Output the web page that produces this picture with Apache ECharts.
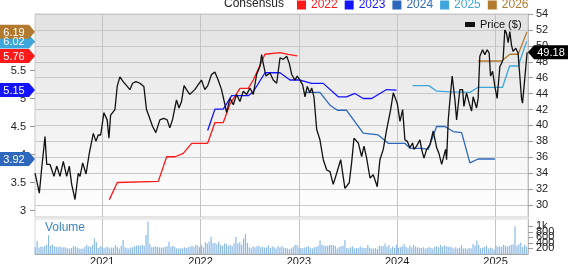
<!DOCTYPE html>
<html><head><meta charset="utf-8">
<script src="https://cdn.jsdelivr.net/npm/echarts@6/dist/echarts.min.js"></script>
<style>html,body{margin:0;padding:0;background:#fff}#c{width:568px;height:264px}</style>
</head><body><div id="c"></div>
<script>
const xMin = 2020.316, xMax = 2025.33;
const yearTicks = [2021, 2022, 2023, 2024, 2025];
const epsTicks = [3, 3.5, 4, 4.5, 5, 5.5, 6];
const priceTicks = [30, 32, 34, 36, 38, 40, 42, 44, 46, 48, 50, 52, 54];
const volumeTicks = [0, 200, 400, 600, 800, 1000, 1200];

const pricePoints = [[2020.316,34.0],[2020.331,33.2],[2020.360,31.5],[2020.387,35.0],[2020.418,38.6],[2020.435,35.1],[2020.469,35.1],[2020.509,33.6],[2020.537,34.9],[2020.570,33.6],[2020.604,35.5],[2020.638,33.6],[2020.665,34.9],[2020.689,32.6],[2020.723,30.7],[2020.756,34.0],[2020.774,33.6],[2020.801,35.3],[2020.835,33.9],[2020.868,36.5],[2020.909,39.0],[2020.936,38.0],[2020.959,38.8],[2020.984,38.8],[2021.017,41.6],[2021.050,40.7],[2021.068,38.4],[2021.085,41.3],[2021.129,42.0],[2021.152,44.9],[2021.179,46.1],[2021.213,45.5],[2021.254,44.9],[2021.281,44.5],[2021.308,45.3],[2021.342,45.5],[2021.383,45.3],[2021.423,44.9],[2021.450,42.0],[2021.477,41.1],[2021.511,39.9],[2021.545,39.1],[2021.586,40.7],[2021.626,40.9],[2021.660,40.7],[2021.687,39.7],[2021.714,40.7],[2021.755,43.2],[2021.781,42.2],[2021.806,43.0],[2021.832,45.0],[2021.857,44.5],[2021.890,43.9],[2021.941,44.5],[2022.009,45.7],[2022.043,44.5],[2022.073,45.0],[2022.111,46.4],[2022.145,46.7],[2022.179,45.7],[2022.213,44.5],[2022.248,42.6],[2022.265,41.6],[2022.299,43.4],[2022.333,42.6],[2022.367,43.9],[2022.400,43.0],[2022.434,44.3],[2022.469,43.9],[2022.502,44.7],[2022.536,43.9],[2022.570,46.4],[2022.604,47.4],[2022.621,48.9],[2022.637,47.8],[2022.665,46.2],[2022.706,46.6],[2022.739,45.7],[2022.774,45.3],[2022.808,48.5],[2022.841,48.3],[2022.876,48.7],[2022.902,47.8],[2022.927,46.4],[2022.960,45.7],[2022.983,46.2],[2023.011,45.7],[2023.038,45.1],[2023.062,43.6],[2023.085,44.9],[2023.112,44.1],[2023.130,44.7],[2023.153,43.6],[2023.181,39.5],[2023.214,38.2],[2023.248,35.7],[2023.283,34.4],[2023.316,34.2],[2023.349,32.6],[2023.384,34.0],[2023.425,35.7],[2023.468,32.1],[2023.512,32.8],[2023.536,35.3],[2023.560,38.4],[2023.604,37.8],[2023.638,36.1],[2023.662,37.4],[2023.689,35.9],[2023.723,33.4],[2023.756,33.8],[2023.797,32.3],[2023.824,35.7],[2023.858,37.0],[2023.893,39.5],[2023.933,42.0],[2023.960,44.1],[2024.000,42.8],[2024.028,40.5],[2024.055,42.0],[2024.078,38.2],[2024.102,38.0],[2024.129,37.2],[2024.156,37.8],[2024.170,37.0],[2024.197,37.4],[2024.231,38.2],[2024.248,37.0],[2024.272,35.9],[2024.299,37.0],[2024.333,37.6],[2024.366,39.3],[2024.401,37.2],[2024.424,36.5],[2024.452,35.1],[2024.468,34.9],[2024.492,37.0],[2024.502,35.7],[2024.519,40.7],[2024.536,43.2],[2024.559,46.2],[2024.587,43.2],[2024.604,40.7],[2024.637,44.5],[2024.665,44.5],[2024.678,42.4],[2024.705,44.1],[2024.732,42.8],[2024.756,41.8],[2024.772,43.6],[2024.807,42.2],[2024.823,43.4],[2024.840,48.7],[2024.868,49.5],[2024.891,48.9],[2024.915,49.5],[2024.935,49.1],[2024.949,46.2],[2024.970,46.8],[2024.993,44.9],[2025.016,43.4],[2025.044,47.4],[2025.061,47.8],[2025.077,48.3],[2025.094,52.0],[2025.111,51.6],[2025.128,50.4],[2025.145,51.8],[2025.162,50.1],[2025.178,49.3],[2025.206,49.7],[2025.229,49.1],[2025.247,46.2],[2025.264,43.4],[2025.274,42.8],[2025.287,44.5],[2025.308,47.4],[2025.321,49.18]];

const eps2022 = [[2021.071,3.19],[2021.153,3.50],[2021.570,3.52],[2021.655,3.96],[2021.740,3.96],[2021.824,4.02],[2021.909,4.20],[2022.072,4.20],[2022.146,4.57],[2022.231,4.57],[2022.299,4.90],[2022.400,5.18],[2022.485,5.18],[2022.536,5.33],[2022.655,5.79],[2022.808,5.82],[2022.892,5.79],[2022.983,5.76]];
const eps2023 = [[2022.072,4.43],[2022.146,4.81],[2022.231,4.81],[2022.316,5.05],[2022.485,5.05],[2022.536,5.12],[2022.655,5.46],[2022.808,5.46],[2022.909,5.33],[2023.011,5.33],[2023.129,5.27],[2023.247,5.27],[2023.400,5.03],[2023.485,5.03],[2023.570,5.09],[2023.654,5.00],[2023.740,5.00],[2023.892,5.16],[2023.994,5.15]];
const eps2024 = [[2023.061,5.11],[2023.214,5.11],[2023.316,4.88],[2023.392,4.79],[2023.485,4.79],[2023.654,4.38],[2023.807,4.35],[2023.908,4.20],[2024.078,4.20],[2024.129,4.11],[2024.248,4.11],[2024.315,4.09],[2024.400,4.50],[2024.485,4.50],[2024.569,4.41],[2024.655,4.39],[2024.739,3.85],[2024.823,3.92],[2024.993,3.92]];
const eps2025 = [[2024.156,5.23],[2024.322,5.23],[2024.403,5.13],[2024.536,5.12],[2024.739,5.11],[2024.823,5.20],[2025.071,5.20],[2025.143,5.58],[2025.230,5.58],[2025.316,6.02]];
const eps2026 = [[2024.823,5.67],[2025.061,5.67],[2025.146,5.79],[2025.230,5.79],[2025.319,6.19]];

const volumeValues = [
250,470,230,270,250,290,330,680,300,340,
280,250,240,270,230,240,230,210,200,220,
280,270,230,200,190,200,260,330,280,250,
330,560,420,220,280,250,210,240,250,200,
230,230,320,250,200,300,500,240,210,200,
230,240,280,300,310,300,330,300,680,1170,
350,240,260,280,250,240,230,230,250,280,
445,260,300,250,210,200,200,200,240,220,
240,260,300,250,330,310,240,330,240,420,
380,450,620,400,400,350,440,330,300,380,
370,300,330,280,390,610,380,420,330,560,
725,400,240,210,270,240,280,300,240,260,
230,240,310,220,270,240,200,280,230,290,
230,220,200,170,210,250,320,320,230,220,
210,230,250,280,210,200,240,250,300,490,
330,300,300,300,320,320,320,290,200,250,
280,300,500,220,200,240,270,200,220,210,
270,230,220,220,320,220,200,200,210,180,
300,280,280,375,260,320,200,270,220,330,
230,240,280,360,250,210,300,240,320,260,
230,230,220,240,200,220,250,220,200,260,
280,240,330,260,310,280,260,250,230,200,
240,200,230,320,200,210,190,220,200,350,
310,490,330,210,230,250,300,200,230,220,
160,310,250,280,250,330,300,260,300,330,
350,1000,300,350,410,250,330,260];
const volStart = 2020.318, volEnd = 2025.315;

const colors = {'2022':'#ff1a1a','2023':'#1414ff','2024':'#2e68bd','2025':'#3ea6db','2026':'#b27a2f'};
const FONT = 'Liberation Sans, Arial, sans-serif';

const volStep = (volEnd - volStart) / (volumeValues.length - 1);
const volumeData = volumeValues.map((v, i) => [volStart + i * volStep, v]);

function leftTag(color, value) {
  return {
    symbol: 'path://M0,0L30,0L36,7L30,14L0,14Z',
    symbolSize: [36, 14], symbolOffset: [-18, 0], silent: true,
    itemStyle: {color: color},
    label: {show: true, position: 'inside', offset: [-3, 1], color: '#fff', fontSize: 11, fontFamily: FONT, formatter: value.toFixed(2)},
    data: [{coord: [xMin, value], value: value}]
  };
}
function epsSeries(name, pts) {
  return {
    name: name, type: 'line', xAxisIndex: 0, yAxisIndex: 0, data: pts,
    showSymbol: false, symbol: 'none', clip: false, z: 3,
    lineStyle: {color: colors[name], width: 1.3}, itemStyle: {color: colors[name]},
    markPoint: leftTag(colors[name], pts[pts.length - 1][1])
  };
}
const lastPrice = pricePoints[pricePoints.length - 1][1];

const chart = echarts.init(document.getElementById('c'), null, {renderer: 'canvas'});
chart.setOption({
  animation: false,
  textStyle: {fontFamily: FONT},
  title: [
    {text: 'Consensus', left: 224, top: -2, padding: 0, textStyle: {fontSize: 12, fontWeight: 'normal', color: '#222', fontFamily: FONT}},
    {text: 'Volume', left: 45, top: 222, padding: 0, textStyle: {fontSize: 12, fontWeight: 'normal', color: '#3a86c8', fontFamily: FONT}}
  ],
  legend: [
    {data: ['2022','2023','2024','2025','2026'].map(n => ({name: n, textStyle: {color: colors[n]}})),
     left: 297, top: -1, padding: 0, itemWidth: 9, itemHeight: 9, itemGap: 7, icon: 'rect', selectedMode: false,
     textStyle: {fontSize: 12, fontFamily: FONT}},
    {data: [{name: 'Price ($)'}], left: 465, top: 19, padding: 0, itemWidth: 10, itemHeight: 5, icon: 'rect', selectedMode: false,
     textStyle: {fontSize: 11, color: '#111', fontFamily: FONT}}
  ],
  grid: [
    {left: 35, top: 14, width: 493, height: 203, show: true, borderColor: '#c8c8c8', borderWidth: 1, outerBoundsMode: 'none',
     backgroundColor: {type: 'linear', x: 0, y: 0, x2: 0, y2: 1, colorStops: [{offset: 0, color: '#e2e2e2'}, {offset: 1, color: '#ffffff'}]}},
    {left: 35, top: 219, width: 493, height: 35, show: true, borderColor: '#d8d8d8', borderWidth: 1, backgroundColor: '#ffffff', outerBoundsMode: 'none'}
  ],
  xAxis: [
    {type: 'value', gridIndex: 0, min: xMin, max: xMax,
     axisLine: {show: false}, axisLabel: {show: false, customValues: yearTicks},
     axisTick: {show: false, customValues: yearTicks},
     splitLine: {show: true, lineStyle: {color: '#c4c4c4', width: 1}}},
    {type: 'value', gridIndex: 1, min: xMin, max: xMax,
     axisLine: {show: true, lineStyle: {color: '#aaaaaa'}},
     axisLabel: {show: true, customValues: yearTicks, margin: 2, fontSize: 11, color: '#222', formatter: v => String(Math.round(v))},
     axisTick: {show: false, customValues: yearTicks},
     splitLine: {show: true, lineStyle: {color: '#c4c4c4', width: 1}}}
  ],
  yAxis: [
    {type: 'value', gridIndex: 0, position: 'left', min: 2.884, max: 6.509,
     axisLine: {show: false},
     axisLabel: {customValues: epsTicks, margin: 9, fontSize: 11, color: '#222'},
     axisTick: {show: true, customValues: epsTicks, length: 5, lineStyle: {color: '#999'}},
     splitLine: {show: false}},
    {type: 'value', gridIndex: 0, position: 'right', min: 28.5, max: 54,
     axisLine: {show: true, lineStyle: {color: '#bbbbbb'}},
     axisLabel: {customValues: priceTicks, margin: 8, fontSize: 11, color: '#222'},
     axisTick: {show: true, customValues: priceTicks, length: 5, lineStyle: {color: '#999'}},
     splitLine: {show: true, lineStyle: {color: '#c8c8c8', width: 1}}},
    {type: 'value', gridIndex: 1, position: 'right', min: 0, max: 1260,
     axisLine: {show: true, lineStyle: {color: '#bbbbbb'}},
     axisLabel: {customValues: volumeTicks, margin: 8, fontSize: 11, color: '#222',
       formatter: v => v >= 1000 ? (v / 1000) + 'k' : String(v)},
     axisTick: {show: true, customValues: volumeTicks, length: 5, lineStyle: {color: '#999'}},
     splitLine: {show: false}}
  ],
  series: [
    epsSeries('2022', eps2022),
    epsSeries('2023', eps2023),
    epsSeries('2024', eps2024),
    epsSeries('2025', eps2025),
    epsSeries('2026', eps2026),
    {name: 'Price ($)', type: 'line', xAxisIndex: 0, yAxisIndex: 1, data: pricePoints,
     showSymbol: false, symbol: 'none', clip: false, z: 5,
     lineStyle: {color: '#111', width: 1.3}, itemStyle: {color: '#111'},
     markPoint: {
       symbol: 'path://M6,0L40,0L40,14L6,14L0,7Z', symbolSize: [40, 14], symbolOffset: [20, 0], silent: true,
       itemStyle: {color: '#000'},
       label: {show: true, position: 'inside', offset: [3, 1], color: '#fff', fontSize: 11, fontFamily: FONT, formatter: lastPrice.toFixed(2)},
       data: [{coord: [xMax, lastPrice], value: lastPrice}]
     }},
    {name: 'Volume', type: 'bar', xAxisIndex: 1, yAxisIndex: 2, data: volumeData,
     barWidth: 1.2, itemStyle: {color: '#8cbae5'}}
  ]
});
</script>
</body></html>
